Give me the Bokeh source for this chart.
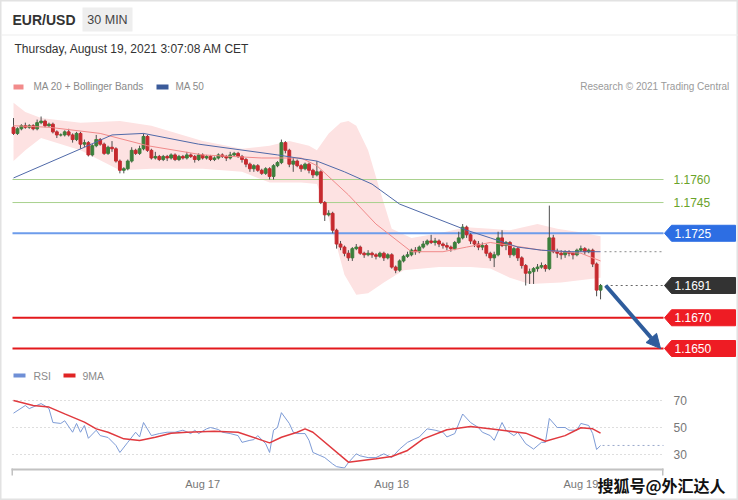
import numpy as np
from bokeh.plotting import figure
from bokeh.models import Range1d, Label, BoxAnnotation, Arrow, NormalHead
from bokeh.core.properties import value
from bokeh.embed import file_html
from bokeh.resources import INLINE

# ---------------- data (30-min candles, Aug 16 00:00 -> Aug 19 02:30) ----------------
opens = [1.1794,1.1790,1.1793,1.1795,1.1794,1.1795,1.1793,1.1797,1.1798,1.1795,
1.1796,1.1791,1.1789,1.1789,1.1791,1.1789,1.1786,1.1790,1.1783,1.1784,
1.1776,1.1782,1.1786,1.1783,1.1777,1.1781,1.1780,1.1772,1.1766,1.1767,
1.1772,1.1779,1.1777,1.1780,1.1788,1.1779,1.1774,1.1775,1.1773,1.1775,
1.1774,1.1776,1.1773,1.1775,1.1774,1.1776,1.1775,1.1773,1.1776,1.1774,
1.1775,1.1773,1.1774,1.1776,1.1775,1.1774,1.1776,1.1777,1.1775,1.1773,
1.1770,1.1767,1.1769,1.1766,1.1764,1.1767,1.1762,1.1769,1.1771,1.1784,
1.1779,1.1770,1.1772,1.1769,1.1767,1.1770,1.1766,1.1763,1.1765,1.1745,
1.1737,1.1738,1.1727,1.1718,1.1716,1.1712,1.1709,1.1715,1.1716,1.1712,
1.1711,1.1712,1.1711,1.1710,1.1712,1.1709,1.1711,1.1703,1.1701,1.1707,
1.1710,1.1711,1.1714,1.1713,1.1716,1.1718,1.1720,1.1719,1.1720,1.1718,
1.1717,1.1716,1.1715,1.1719,1.1722,1.1729,1.1724,1.1720,1.1718,1.1716,
1.1717,1.1712,1.1709,1.1711,1.1722,1.1717,1.1719,1.1711,1.1715,1.1709,
1.1704,1.1699,1.1700,1.1702,1.1703,1.1704,1.1702,1.1722,1.1713,1.1712,
1.1711,1.1713,1.1712,1.1711,1.1714,1.1715,1.1713,1.1714,1.1705,1.1688]

highs = [1.1800,1.1794,1.1796,1.1797,1.1796,1.1796,1.1799,1.1801,1.1799,1.1797,
1.1797,1.1792,1.1790,1.1792,1.1793,1.1790,1.1791,1.1791,1.1786,1.1785,
1.1783,1.1789,1.1787,1.1784,1.1782,1.1785,1.1781,1.1773,1.1768,1.1773,
1.1781,1.1780,1.1782,1.1790,1.1789,1.1780,1.1778,1.1776,1.1776,1.1776,
1.1777,1.1777,1.1776,1.1776,1.1778,1.1777,1.1776,1.1777,1.1777,1.1776,
1.1776,1.1775,1.1777,1.1777,1.1776,1.1778,1.1778,1.1778,1.1776,1.1774,
1.1771,1.1770,1.1770,1.1767,1.1768,1.1768,1.1770,1.1772,1.1786,1.1785,
1.1780,1.1774,1.1773,1.1770,1.1771,1.1771,1.1767,1.1772,1.1766,1.1746,
1.1740,1.1739,1.1728,1.1720,1.1717,1.1714,1.1716,1.1718,1.1717,1.1713,
1.1714,1.1713,1.1712,1.1713,1.1713,1.1712,1.1712,1.1704,1.1708,1.1711,
1.1713,1.1715,1.1716,1.1717,1.1720,1.1721,1.1724,1.1722,1.1721,1.1719,
1.1719,1.1717,1.1720,1.1726,1.1731,1.1730,1.1725,1.1721,1.1720,1.1719,
1.1718,1.1713,1.1713,1.1726,1.1727,1.1720,1.1720,1.1716,1.1716,1.1710,
1.1705,1.1702,1.1703,1.1705,1.1706,1.1705,1.1743,1.1724,1.1715,1.1714,
1.1714,1.1714,1.1713,1.1715,1.1717,1.1716,1.1715,1.1715,1.1706,1.1692]

lows = [1.1789,1.1789,1.1792,1.1793,1.1793,1.1792,1.1792,1.1796,1.1794,1.1794,
1.1790,1.1787,1.1788,1.1788,1.1788,1.1784,1.1785,1.1780,1.1781,1.1775,
1.1775,1.1781,1.1782,1.1776,1.1776,1.1778,1.1771,1.1764,1.1764,1.1766,
1.1771,1.1776,1.1776,1.1779,1.1778,1.1773,1.1773,1.1772,1.1772,1.1772,
1.1773,1.1772,1.1772,1.1773,1.1773,1.1774,1.1771,1.1772,1.1773,1.1773,
1.1772,1.1772,1.1773,1.1774,1.1772,1.1773,1.1775,1.1774,1.1771,1.1768,
1.1765,1.1765,1.1765,1.1763,1.1763,1.1760,1.1760,1.1768,1.1770,1.1777,
1.1768,1.1765,1.1768,1.1765,1.1766,1.1764,1.1761,1.1762,1.1744,1.1733,
1.1736,1.1725,1.1715,1.1714,1.1710,1.1707,1.1707,1.1714,1.1711,1.1709,
1.1710,1.1709,1.1708,1.1709,1.1707,1.1708,1.1702,1.1699,1.1700,1.1706,
1.1709,1.1710,1.1711,1.1712,1.1715,1.1717,1.1718,1.1717,1.1716,1.1715,
1.1714,1.1713,1.1714,1.1718,1.1721,1.1722,1.1718,1.1716,1.1714,1.1714,
1.1710,1.1707,1.1703,1.1710,1.1716,1.1714,1.1709,1.1710,1.1707,1.1702,
1.1691,1.1692,1.1692,1.1700,1.1702,1.1700,1.1701,1.1712,1.1709,1.1708,
1.1709,1.1710,1.1708,1.1710,1.1713,1.1711,1.1712,1.1703,1.1684,1.1682]

closes = [1.1790,1.1793,1.1795,1.1794,1.1795,1.1793,1.1797,1.1798,1.1795,1.1796,
1.1791,1.1789,1.1789,1.1791,1.1789,1.1786,1.1790,1.1783,1.1784,1.1776,
1.1782,1.1786,1.1783,1.1777,1.1781,1.1780,1.1772,1.1766,1.1767,1.1772,
1.1779,1.1777,1.1780,1.1788,1.1779,1.1774,1.1775,1.1773,1.1775,1.1774,
1.1776,1.1773,1.1775,1.1774,1.1776,1.1775,1.1773,1.1776,1.1774,1.1775,
1.1773,1.1774,1.1776,1.1775,1.1774,1.1776,1.1777,1.1775,1.1773,1.1770,
1.1767,1.1769,1.1766,1.1764,1.1767,1.1762,1.1769,1.1771,1.1784,1.1779,
1.1770,1.1772,1.1769,1.1767,1.1770,1.1766,1.1763,1.1765,1.1745,1.1737,
1.1738,1.1727,1.1718,1.1716,1.1712,1.1709,1.1715,1.1716,1.1712,1.1711,
1.1712,1.1711,1.1710,1.1712,1.1709,1.1711,1.1703,1.1701,1.1707,1.1710,
1.1711,1.1714,1.1713,1.1716,1.1718,1.1720,1.1719,1.1720,1.1718,1.1717,
1.1716,1.1715,1.1719,1.1722,1.1729,1.1724,1.1720,1.1718,1.1716,1.1717,
1.1712,1.1709,1.1711,1.1722,1.1717,1.1719,1.1711,1.1715,1.1709,1.1704,
1.1699,1.1700,1.1702,1.1703,1.1704,1.1702,1.1722,1.1713,1.1712,1.1711,
1.1713,1.1712,1.1711,1.1714,1.1715,1.1713,1.1714,1.1705,1.1688,1.1691]

day_ticks = [48, 96, 144]
day_labels = ["Aug 17", "Aug 18", "Aug 19"]

ma20_i = [0, 9, 22, 34, 48, 63, 73, 77, 85, 92, 101, 109, 115, 121, 129, 134, 144, 149]
ma20 = [1.1795, 1.1794, 1.1790, 1.1782, 1.1776, 1.1774, 1.1774, 1.1769, 1.1750, 1.1731,
        1.1713, 1.1713, 1.1716, 1.1719, 1.1716, 1.1714, 1.1712, 1.1707]

ma50_i = [0, 18, 25, 33, 47, 67, 77, 84, 91, 98, 107, 115, 121, 128, 134, 141, 149]
ma50 = [1.1761, 1.1781, 1.1789, 1.1790, 1.1783, 1.1776, 1.1772, 1.1765, 1.1757, 1.1744,
        1.1735, 1.1727, 1.1722, 1.1716, 1.1714, 1.1713, 1.1713]

bb_up_i = [0, 3, 7, 17, 27, 35, 48, 58, 65, 70, 75, 77, 80, 83, 85, 87, 90, 93, 96, 101, 108,
           115, 121, 126, 133, 138, 143, 149]
bb_up = [1.1810, 1.1804, 1.1800, 1.1797, 1.1798, 1.1795, 1.1785, 1.1780, 1.1782, 1.1785,
         1.1782, 1.1779, 1.1790, 1.1797, 1.1798, 1.1795, 1.1779, 1.1753, 1.1728, 1.1722, 1.1725,
         1.1729, 1.1728, 1.1727, 1.1731, 1.1728, 1.1726, 1.1723]
bb_lo_i = [0, 3, 7, 17, 27, 35, 48, 58, 65, 73, 77, 79, 82, 84, 87, 90, 94, 99, 108, 116,
           121, 126, 131, 139, 149]
bb_lo = [1.1772, 1.1779, 1.1787, 1.1779, 1.1766, 1.1767, 1.1767, 1.1765, 1.1758, 1.1758,
         1.1757, 1.1743, 1.1717, 1.1698, 1.1685, 1.1686, 1.1693, 1.1701, 1.1703, 1.1703,
         1.1702, 1.1696, 1.1692, 1.1693, 1.1696]

rsi_i = [0,3,4,7,8,9,10,12,13,15,16,17,18,19,21,22,24,26,27,29,31,32,33,35,37,39,41,43,45,46,
         47,49,50,52,53,55,57,58,60,61,62,64,65,66,67,68,70,71,72,74,75,76,78,79,81,82,84,85,87,88,
         90,92,94,96,98,100,103,105,107,109,110,112,114,116,118,119,121,122,124,125,127,128,130,132,134,135,136,138,140,141,
         143,144,146,147,148,149]
rsi = [60.6,66.3,64,67.7,66,64,53.7,53,55,46.5,53,46.5,51.5,42,48,44,42.6,36.7,31.5,39,
       46.5,43,53.7,44,45.5,46.5,46.5,48,45.5,48,45.5,49,50,48.5,46.5,45.5,44,39,40.5,41,
       44,38,31.5,48,50,61,53,46.5,45.5,45.5,40.5,31.5,29,27.7,23,21,20,24,30.5,29,
       27.7,27.7,30.5,27.7,34,39,43,49,48,46.5,43,45.5,60,53.7,50,46.5,44,40.5,53.7,48,
       44,46.5,38,34,39,39,56.7,50,50,48,48,53,51.5,45.5,33.7,36.7]
ma9_i = [0,5,9,13,18,21,24,28,32,36,40,44,51,57,62,65,68,72,74,76,85,92,96,100,104,110,116,123,130,135,140,144,147,149]
ma9 = [70,66.3,65.1,60.1,54,49,46.5,41.6,40.4,42.8,45.8,46.5,47.3,46.5,41.6,38.6,42.8,46.5,49,46.5,
       24.3,26.8,28.5,33,41.6,48.3,50.7,48.3,45.8,39.8,44,49.8,49,45.8]

green_levels = [1.1760, 1.1745]
pivot_level = 1.1725
red_levels = [1.1670, 1.1650]
target_level = 1.1650
rsi_grid = [70, 50, 30]

# ---------------- layout constants (pixel mapping of the 738x500 canvas) ----------------
W, H = 738, 500
X0, DX = 13.0, 3.94           # pixel x of candle 0, pixels per candle
PY0, PP0, PPX = 179.0, 1.1760, 15364.0   # pixel y of 1.1760, pixels per price unit
RY0, RV0, RPX = 400.0, 70.0, 1.35        # pixel y of RSI 70, pixels per RSI unit

def PX(x):
    return (x - X0) / DX

def PY(y):
    return PP0 - (y - PY0) / PPX

def RY(y):
    return RV0 - (y - RY0) / RPX

FONT = "Liberation Sans"

p = figure(width=W, height=H, output_backend="svg", toolbar_location=None,
           x_range=Range1d(PX(0), PX(W)), y_range=Range1d(PY(H), PY(0)),
           x_axis_location=None, y_axis_location=None, title=None, min_border=0)
p.extra_y_ranges = {"rsi": Range1d(RY(H), RY(0))}
p.grid.visible = False
p.background_fill_color = "white"
p.border_fill_color = "white"
p.outline_line_color = "#e2e2e2"
p.outline_line_width = 2

def box(x0, x1, y0, y1, color):
    p.add_layout(BoxAnnotation(left=PX(x0), right=PX(x1), top=PY(y0), bottom=PY(y1),
                               fill_color=color, fill_alpha=1, line_alpha=0))

def label(x, y, text, size="12px", color="#333333", align="left", style="normal", font=FONT):
    p.add_layout(Label(x=PX(x), y=PY(y), text=text, text_font=font, text_font_size=size,
                       text_color=color, text_align=align, text_baseline="middle",
                       text_font_style=style))

# ---------------- header ----------------
box(0, W, 34, 35, "#eeeeee")
box(82, 132, 7, 31, "#eeeeee")
label(12, 19, "EUR/USD", size="14px", color="#333333", style="bold")
label(107, 19, "30 MIN", size="12.5px", color="#444444", align="center")
label(14, 48, "Thursday, August 19, 2021 3:07:08 AM CET", size="12px", color="#333333")

# legend
box(13, 23, 84, 89, "#f28b8b")
label(33, 86, "MA 20 + Bollinger Bands", size="10px", color="#8a8a8a")
box(156, 168, 84, 89, "#3b5b9a")
label(175, 86, "MA 50", size="10px", color="#8a8a8a")
label(729, 86, "Research \u00a9 2021 Trading Central", size="10px", color="#9a9a9a", align="right")

# ---------------- price panel ----------------
idx = np.arange(len(closes))
o = np.array(opens); c = np.array(closes); hi = np.array(highs); lo = np.array(lows)
up = c >= o
GREEN, RED = "#3c7f3c", "#c62a2f"

# Bollinger band
band_x = list(bb_up_i) + list(bb_lo_i)[::-1]
band_y = list(bb_up) + list(bb_lo)[::-1]
p.patch(band_x, band_y, fill_color="#fde2e2", fill_alpha=1, line_alpha=0)

XL, XR = PX(12), PX(663)
# resistance / pivot / support lines
p.segment([XL] * 2, green_levels, [XR] * 2, green_levels, line_color="#a9d18e", line_width=1)
p.segment([XL], [pivot_level], [XR], [pivot_level], line_color="#6d9ceb", line_width=2)
p.segment([XL] * 2, red_levels, [XR] * 2, red_levels, line_color="#e3191c", line_width=2)

# candles
p.segment(idx, lo, idx, hi, line_color="#4d4d4d", line_width=1)
p.vbar(x=idx[up], top=c[up], bottom=o[up], width=0.72, fill_color=GREEN, line_color=GREEN, line_width=1)
p.vbar(x=idx[~up], top=o[~up], bottom=c[~up], width=0.72, fill_color=RED, line_color=RED, line_width=1)

# moving averages
p.line(ma20_i, ma20, line_color="#f08a8a", line_width=1)
p.line(ma50_i, ma50, line_color="#4f69a8", line_width=1)

# last-value dotted lines
last_i = len(closes) - 1
p.segment([last_i + 1], [ma50[-1]], [XR], [ma50[-1]], line_color="#8c8c8c", line_width=1, line_dash="2 3")
p.segment([last_i + 1.3], [closes[-1]], [XR], [closes[-1]], line_color="#666666", line_width=1, line_dash="2 3")

# level labels
TIP, SH, RGT = PX(664), PX(671), PX(735)
HALF = 8.0 / PPX
def tag(level, color):
    p.patch([TIP, SH, RGT, RGT, SH], [level, level + HALF, level + HALF, level - HALF, level - HALF],
            fill_color=color, line_color=color, line_width=1)
    p.text(x=[PX(674)], y=[level], text=[f"{level:.4f}"], text_color="white",
           text_font=value(FONT), text_font_size="12px", text_baseline="middle", text_align="left")

for lv in green_levels:
    p.text(x=[PX(673)], y=[lv], text=[f"{lv:.4f}"], text_color="#6aa329",
           text_font=value(FONT), text_font_size="12px", text_baseline="middle", text_align="left")
tag(pivot_level, "#2d6ee3")
tag(closes[-1], "#333333")
for lv in red_levels:
    tag(lv, "#ee1c24")

# projection arrow
AC = "#2e5c9c"
p.add_layout(Arrow(end=NormalHead(size=14, fill_color=AC, line_color=AC),
                   x_start=last_i + 1.3, y_start=closes[-1], x_end=PX(660), y_end=target_level,
                   line_color=AC, line_width=4))

# ---------------- RSI panel ----------------
box(13, 25, 373, 377, "#6f8fd6")
label(33, 375, "RSI", size="10.5px", color="#8a8a8a")
box(63, 75, 373, 377, "#e02424")
label(82, 375, "9MA", size="10.5px", color="#8a8a8a")

p.segment([XL] * 3, rsi_grid, [XR] * 3, rsi_grid, y_range_name="rsi",
          line_color="#bdbdbd", line_width=1, line_dash="1 3")
p.text(x=[PX(673)] * 3, y=rsi_grid, text=[str(v) for v in rsi_grid], y_range_name="rsi",
       text_color="#777777", text_font=value(FONT), text_font_size="12px",
       text_baseline="middle", text_align="left")
p.segment([last_i + 0.5], [rsi[-1]], [XR], [rsi[-1]], y_range_name="rsi",
          line_color="#9aa9cc", line_width=1, line_dash="2 3")
p.line(rsi_i, rsi, y_range_name="rsi", line_color="#7d9bd6", line_width=1)
p.line(ma9_i, ma9, y_range_name="rsi", line_color="#e0393e", line_width=1.5)

# time axis
box(11, 663, 468, 470, "#c2c2c2")
box(11, 12.5, 468, 475, "#c2c2c2")
box(661.5, 663, 468, 475, "#c2c2c2")
for t, lab in zip(day_ticks, day_labels):
    p.add_layout(Label(x=t, y=PY(483), text=lab, text_font=FONT, text_font_size="11px",
                       text_color="#777777", text_align="center", text_baseline="middle"))

# watermark
label(597, 484, "搜狐号@外汇达人", size="16px", color="#111111", font="Noto Sans CJK SC", style="bold")

open("out.html", "w").write(file_html(p, INLINE))
